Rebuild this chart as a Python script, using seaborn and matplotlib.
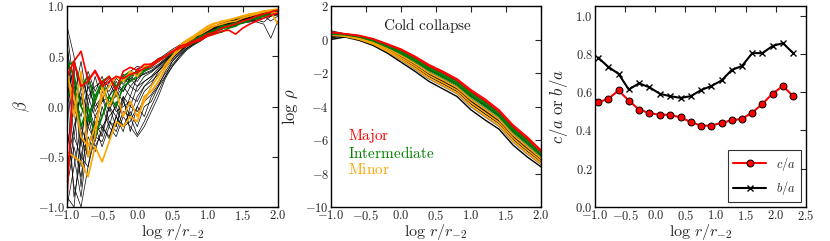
import matplotlib
matplotlib.use("Agg")
import matplotlib.pyplot as plt
from matplotlib.ticker import FuncFormatter, MultipleLocator
import seaborn as sns

# --- data ---
r_beta = [-1.0, -0.9, -0.8, -0.7, -0.6, -0.5, -0.4, -0.3, -0.2, -0.1, 0.0,
          0.1, 0.2, 0.3, 0.4, 0.5, 0.6, 0.7, 0.8, 0.9, 1.0,
          1.1, 1.2, 1.3, 1.4, 1.5, 1.6, 1.7, 1.8, 1.9, 2.0]

beta_black = [
    [0.75, 0.2, -0.3, 0.1, -0.1, 0.05, 0.1, 0.2, 0.15, 0.3, 0.35, 0.38, 0.42, 0.45, 0.5, 0.55, 0.6, 0.63, 0.68, 0.72, 0.75, 0.78, 0.8, 0.83, 0.85, 0.87, 0.88, 0.9, 0.92, 0.93, 0.95],
    [-1.0, -0.6, -0.2, -0.4, -0.15, -0.3, 0.0, -0.1, 0.1, 0.0, 0.2, 0.25, 0.3, 0.35, 0.42, 0.5, 0.55, 0.6, 0.65, 0.7, 0.74, 0.78, 0.8, 0.82, 0.84, 0.86, 0.88, 0.89, 0.9, 0.92, 0.94],
    [0.3, -0.5, -0.9, -0.3, -0.45, -0.2, -0.3, -0.1, -0.2, -0.05, -0.2, 0.0, 0.05, 0.2, 0.3, 0.45, 0.52, 0.58, 0.62, 0.68, 0.72, 0.75, 0.78, 0.8, 0.82, 0.84, 0.85, 0.86, 0.84, 0.9, 0.92],
    [0.5, 0.0, 0.3, 0.1, 0.2, 0.25, 0.2, 0.3, 0.25, 0.35, 0.4, 0.38, 0.42, 0.48, 0.5, 0.55, 0.6, 0.65, 0.7, 0.72, 0.78, 0.8, 0.82, 0.85, 0.86, 0.88, 0.9, 0.92, 0.93, 0.95, 0.96],
    [-0.2, -0.8, -1.0, -0.6, -0.3, -0.35, -0.15, -0.25, -0.05, -0.1, -0.28, -0.15, 0.0, 0.15, 0.3, 0.4, 0.5, 0.58, 0.62, 0.66, 0.7, 0.74, 0.78, 0.8, 0.83, 0.85, 0.86, 0.84, 0.82, 0.68, 0.85],
    [0.6, 0.1, -0.1, 0.2, 0.0, 0.1, -0.05, 0.15, 0.05, 0.2, 0.15, 0.25, 0.3, 0.38, 0.45, 0.52, 0.56, 0.6, 0.65, 0.69, 0.73, 0.77, 0.79, 0.82, 0.84, 0.86, 0.87, 0.89, 0.91, 0.93, 0.95],
    [-0.6, -0.2, 0.1, -0.2, 0.05, -0.1, 0.1, -0.05, 0.0, 0.05, -0.1, 0.1, 0.15, 0.25, 0.38, 0.47, 0.55, 0.6, 0.64, 0.68, 0.72, 0.76, 0.79, 0.81, 0.83, 0.85, 0.87, 0.88, 0.9, 0.91, 0.93],
    [0.1, 0.4, -0.6, 0.0, -0.2, 0.15, 0.05, 0.1, 0.2, 0.1, 0.3, 0.32, 0.35, 0.4, 0.46, 0.53, 0.58, 0.63, 0.67, 0.7, 0.76, 0.79, 0.82, 0.84, 0.86, 0.88, 0.89, 0.91, 0.93, 0.94, 0.96],
    [0.2, -0.9, -0.5, -0.1, -0.25, -0.2, -0.1, 0.0, -0.2, -0.15, 0.0, -0.1, 0.1, 0.2, 0.35, 0.45, 0.53, 0.6, 0.63, 0.67, 0.71, 0.75, 0.78, 0.8, 0.82, 0.86, 0.85, 0.88, 0.9, 0.85, 0.9],
    [0.4, -0.3, 0.2, -0.1, 0.1, 0.2, 0.15, 0.28, 0.22, 0.3, 0.25, 0.35, 0.38, 0.42, 0.48, 0.55, 0.6, 0.64, 0.69, 0.72, 0.76, 0.8, 0.82, 0.84, 0.86, 0.87, 0.89, 0.9, 0.92, 0.94, 0.95],
    [-0.8, -0.4, -0.7, -0.2, -0.35, 0.0, -0.2, 0.05, -0.1, 0.1, 0.05, 0.2, 0.25, 0.32, 0.4, 0.48, 0.54, 0.6, 0.66, 0.7, 0.73, 0.77, 0.8, 0.83, 0.84, 0.87, 0.88, 0.9, 0.91, 0.93, 0.94],
    [0.0, 0.3, -0.4, 0.25, -0.05, 0.1, -0.15, -0.2, 0.1, -0.25, 0.0, 0.15, 0.22, 0.35, 0.44, 0.52, 0.57, 0.62, 0.67, 0.71, 0.75, 0.78, 0.81, 0.83, 0.85, 0.87, 0.89, 0.9, 0.92, 0.94, 0.95],
    [0.8, 0.5, 0.0, 0.3, 0.1, 0.2, 0.28, 0.2, 0.32, 0.25, 0.38, 0.4, 0.43, 0.47, 0.52, 0.57, 0.61, 0.66, 0.7, 0.74, 0.77, 0.8, 0.83, 0.85, 0.87, 0.89, 0.91, 0.92, 0.94, 0.95, 0.97],
    [-0.9, -1.0, -0.3, -0.5, -0.1, -0.2, -0.32, -0.1, -0.25, 0.0, -0.05, 0.05, 0.12, 0.22, 0.33, 0.42, 0.5, 0.57, 0.62, 0.66, 0.7, 0.74, 0.77, 0.8, 0.81, 0.84, 0.86, 0.87, 0.88, 0.9, 0.92],
    [0.35, 0.1, 0.45, 0.0, 0.3, 0.05, 0.25, 0.1, 0.3, 0.2, 0.28, 0.33, 0.36, 0.41, 0.47, 0.54, 0.59, 0.63, 0.68, 0.71, 0.75, 0.79, 0.81, 0.84, 0.86, 0.87, 0.9, 0.91, 0.93, 0.95, 0.96],
    [-0.4, 0.0, -0.8, -0.1, -0.4, -0.25, 0.0, -0.2, 0.05, -0.1, 0.1, 0.2, 0.28, 0.36, 0.43, 0.5, 0.56, 0.61, 0.66, 0.7, 0.74, 0.78, 0.8, 0.82, 0.85, 0.86, 0.88, 0.9, 0.91, 0.93, 0.94],
    [0.65, -0.1, 0.1, 0.35, 0.15, 0.3, 0.1, 0.25, 0.15, 0.28, 0.2, 0.3, 0.34, 0.4, 0.46, 0.53, 0.58, 0.62, 0.66, 0.71, 0.74, 0.78, 0.8, 0.83, 0.85, 0.88, 0.88, 0.9, 0.92, 0.93, 0.95],
    [-0.7, -0.3, -0.5, -0.6, -0.2, -0.4, -0.2, -0.3, -0.1, -0.2, -0.3, -0.2, -0.05, 0.1, 0.28, 0.4, 0.48, 0.56, 0.61, 0.65, 0.7, 0.74, 0.77, 0.79, 0.81, 0.83, 0.84, 0.86, 0.88, 0.9, 0.91],
]
beta_major = [
    [-0.93, 0.45, 0.55, 0.26, 0.36, 0.23, 0.3, 0.16, 0.35, 0.39, 0.36, 0.42, 0.42, 0.47, 0.5, 0.55, 0.58, 0.6, 0.64, 0.66, 0.7, 0.72, 0.75, 0.76, 0.72, 0.78, 0.82, 0.85, 0.88, 0.91, 0.93],
    [0.3, 0.45, 0.2, 0.25, 0.35, 0.2, 0.25, 0.3, 0.28, 0.32, 0.34, 0.38, 0.4, 0.45, 0.5, 0.54, 0.6, 0.62, 0.65, 0.68, 0.72, 0.74, 0.78, 0.8, 0.82, 0.85, 0.87, 0.9, 0.92, 0.94, 0.96],
]
beta_inter = [
    [0.4, 0.45, 0.2, 0.3, 0.05, 0.25, 0.0, 0.2, 0.3, 0.35, 0.32, 0.38, 0.42, 0.45, 0.5, 0.55, 0.58, 0.6, 0.63, 0.67, 0.7, 0.73, 0.74, 0.78, 0.8, 0.84, 0.86, 0.88, 0.9, 0.92, 0.94],
    [0.1, 0.2, -0.2, 0.0, -0.3, -0.1, 0.1, 0.0, 0.2, 0.25, 0.3, 0.35, 0.4, 0.45, 0.5, 0.54, 0.57, 0.61, 0.65, 0.68, 0.72, 0.74, 0.77, 0.8, 0.82, 0.83, 0.86, 0.88, 0.9, 0.92, 0.95],
    [0.45, 0.3, 0.0, -0.15, 0.1, 0.25, 0.3, 0.2, 0.25, 0.3, 0.35, 0.36, 0.4, 0.46, 0.5, 0.53, 0.58, 0.62, 0.66, 0.7, 0.73, 0.76, 0.8, 0.81, 0.83, 0.85, 0.86, 0.89, 0.91, 0.92, 0.94],
]
beta_minor = [
    [-0.45, -0.5, -0.55, -0.7, -0.4, -0.55, -0.35, -0.15, -0.2, -0.1, -0.15, 0.1, 0.15, 0.25, 0.38, 0.5, 0.6, 0.66, 0.7, 0.75, 0.8, 0.83, 0.84, 0.86, 0.88, 0.9, 0.92, 0.93, 0.95, 0.96, 0.97],
    [0.4, -0.1, 0.35, -0.5, -0.3, 0.2, 0.0, 0.15, -0.1, 0.05, -0.1, 0.05, 0.2, 0.3, 0.42, 0.5, 0.56, 0.64, 0.68, 0.74, 0.78, 0.82, 0.85, 0.86, 0.88, 0.9, 0.92, 0.93, 0.95, 0.94, 0.93],
    [0.3, 0.1, -0.3, -0.4, -0.2, 0.1, 0.2, 0.3, 0.25, 0.35, 0.3, 0.4, 0.42, 0.45, 0.5, 0.55, 0.6, 0.64, 0.7, 0.72, 0.76, 0.8, 0.82, 0.84, 0.85, 0.88, 0.9, 0.92, 0.94, 0.95, 0.82],
]

r_rho = [-1.0, -0.8, -0.6, -0.4, -0.2, 0.0, 0.2, 0.4, 0.6, 0.8, 1.0, 1.2, 1.4, 1.6, 1.8, 2.0]

rho_black = [
    [0.5, 0.33, 0.22, 0.01, -0.3, -0.65, -1.09, -1.6, -2.0, -2.45, -3.12, -3.67, -4.32, -5.22, -5.92, -6.7],
    [0.25, 0.3, 0.16, -0.07, -0.41, -0.8, -1.27, -1.8, -2.22, -2.67, -3.36, -3.92, -4.55, -5.46, -6.16, -6.9],
    [0.2, 0.26, 0.12, -0.13, -0.5, -0.92, -1.4, -1.95, -2.37, -2.82, -3.54, -4.11, -4.72, -5.64, -6.34, -7.05],
    [0.3, 0.24, 0.09, -0.17, -0.55, -1.0, -1.5, -2.05, -2.48, -2.93, -3.66, -4.24, -4.83, -5.76, -6.46, -7.15],
    [0.1, 0.21, 0.04, -0.23, -0.64, -1.12, -1.63, -2.2, -2.64, -3.09, -3.84, -4.43, -5.0, -5.94, -6.64, -7.3],
    [0.05, 0.18, 0.0, -0.29, -0.72, -1.23, -1.77, -2.35, -2.79, -3.24, -4.02, -4.61, -5.18, -6.12, -6.82, -7.45],
    [0.0, 0.15, -0.05, -0.35, -0.8, -1.35, -1.9, -2.5, -2.95, -3.4, -4.2, -4.8, -5.35, -6.3, -7.0, -7.6],
    [0.15, 0.23, 0.07, -0.19, -0.58, -1.04, -1.54, -2.1, -2.53, -2.98, -3.72, -4.3, -4.89, -5.82, -6.52, -7.2],
    [0.45, 0.31, 0.19, -0.03, -0.36, -0.73, -1.18, -1.7, -2.11, -2.56, -3.24, -3.8, -4.43, -5.34, -6.04, -6.8],
]
rho_major = [
    [0.4, 0.35, 0.25, 0.05, -0.25, -0.57, -1.0, -1.5, -1.9, -2.35, -3.0, -3.55, -4.2, -5.1, -5.8, -6.6],
    [0.45, 0.33, 0.22, 0.02, -0.3, -0.63, -1.07, -1.58, -1.98, -2.43, -3.1, -3.65, -4.3, -5.2, -5.9, -6.7],
]
rho_inter = [
    [0.35, 0.32, 0.2, 0.0, -0.33, -0.69, -1.13, -1.65, -2.06, -2.5, -3.18, -3.74, -4.37, -5.28, -5.98, -6.75],
    [0.3, 0.3, 0.18, -0.05, -0.38, -0.77, -1.22, -1.75, -2.17, -2.62, -3.3, -3.86, -4.49, -5.4, -6.1, -6.85],
    [0.38, 0.28, 0.15, -0.09, -0.44, -0.84, -1.31, -1.85, -2.27, -2.72, -3.42, -3.99, -4.6, -5.52, -6.22, -6.95],
]
rho_minor = [
    [0.45, 0.25, 0.1, -0.15, -0.52, -0.96, -1.45, -2.0, -2.42, -2.87, -3.6, -4.17, -4.77, -5.7, -6.4, -7.1],
    [0.35, 0.22, 0.06, -0.21, -0.61, -1.08, -1.58, -2.15, -2.58, -3.03, -3.78, -4.36, -4.95, -5.88, -6.58, -7.25],
    [0.25, 0.19, 0.01, -0.27, -0.69, -1.19, -1.72, -2.3, -2.74, -3.19, -3.96, -4.55, -5.12, -6.06, -6.76, -7.4],
]

r_shape = [-0.95, -0.78, -0.61, -0.44, -0.27, -0.10, 0.08, 0.25, 0.42, 0.59,
           0.76, 0.93, 1.10, 1.27, 1.44, 1.61, 1.78, 1.95, 2.12, 2.29]
c_over_a = [0.547, 0.565, 0.609, 0.556, 0.509, 0.491, 0.482, 0.482, 0.468, 0.444,
            0.425, 0.425, 0.440, 0.453, 0.461, 0.493, 0.539, 0.593, 0.632, 0.579]
b_over_a = [0.781, 0.732, 0.696, 0.614, 0.646, 0.626, 0.591, 0.579, 0.570, 0.579,
            0.611, 0.632, 0.661, 0.716, 0.737, 0.804, 0.804, 0.842, 0.856, 0.804]

RED, GREEN, ORANGE = "#ff0000", "#008000", "#ffa500"

sns.set_style("white")
plt.rcParams["font.family"] = ["DejaVu Serif"]
plt.rcParams["mathtext.fontset"] = "cm"
plt.rcParams["xtick.direction"] = "in"
plt.rcParams["ytick.direction"] = "in"

fig = plt.figure(figsize=(8.3, 2.41), dpi=100)
ax1 = fig.add_axes([0.0807, 0.141, 0.254, 0.834])
ax2 = fig.add_axes([0.3988, 0.141, 0.253, 0.834])
ax3 = fig.add_axes([0.7169, 0.141, 0.254, 0.834])

# panel 1: anisotropy
for curve in beta_black:
    sns.lineplot(x=r_beta, y=curve, color="black", lw=0.5, ax=ax1)
for group, col in [(beta_inter, GREEN), (beta_minor, ORANGE), (beta_major, RED)]:
    for curve in group:
        sns.lineplot(x=r_beta, y=curve, color=col, lw=1.2, ax=ax1)
ax1.set_xlim(-1, 2)
ax1.set_ylim(-1, 1)
ax1.xaxis.set_major_locator(MultipleLocator(0.5))
ax1.yaxis.set_major_locator(MultipleLocator(0.5))
ax1.set_ylabel(r"$\beta$", fontsize=12)

# panel 2: density
for i, curve in enumerate(rho_black):
    sns.lineplot(x=r_rho, y=curve, color="0.45" if i % 3 == 2 else "black",
                 lw=1.0, ax=ax2)
for group, col in [(rho_minor, ORANGE), (rho_inter, GREEN), (rho_major, RED)]:
    for curve in group:
        sns.lineplot(x=r_rho, y=curve, color=col, lw=1.1, ax=ax2)
ax2.set_xlim(-1, 2)
ax2.set_ylim(-10, 2)
ax2.xaxis.set_major_locator(MultipleLocator(0.5))
ax2.yaxis.set_major_locator(MultipleLocator(2))
ax2.set_ylabel(r"$\log\,\rho$", fontsize=12)
ax2.text(0.46, 0.905, r"$\mathrm{Cold\ collapse}$", transform=ax2.transAxes,
         ha="center", va="center", fontsize=11)
for label, col, yy in [("Major", RED, 0.355), ("Intermediate", GREEN, 0.27), ("Minor", ORANGE, 0.185)]:
    ax2.text(0.08, yy, r"$\mathrm{%s}$" % label, color=col, transform=ax2.transAxes,
             ha="left", va="center", fontsize=11)

# panel 3: axis ratios
sns.lineplot(x=r_shape, y=c_over_a, color=RED, lw=1.5, marker="o", markersize=5,
             markeredgecolor="black", markeredgewidth=0.7, label=r"$c/a$", ax=ax3)
sns.lineplot(x=r_shape, y=b_over_a, color="black", lw=1.5, marker="x", markersize=5,
             markeredgecolor="black", markeredgewidth=1.0, label=r"$b/a$", ax=ax3)
ax3.set_xlim(-1, 2.5)
ax3.set_ylim(0, 1.05)
ax3.xaxis.set_major_locator(MultipleLocator(0.5))
ax3.yaxis.set_major_locator(MultipleLocator(0.2))
ax3.set_ylabel(r"$c/a\ \mathrm{or}\ b/a$", fontsize=12)
leg = ax3.legend(loc="lower right", fontsize=9, frameon=True, fancybox=False,
                 handlelength=2.6, borderaxespad=0.4)
leg.get_frame().set_edgecolor("black")
leg.get_frame().set_linewidth(0.8)

fmt = FuncFormatter(lambda v, p: r"$%.1f$" % v)
for ax in (ax1, ax2, ax3):
    ax.set_xlabel(r"$\log\,r/r_{-2}$", fontsize=11.5)
    ax.xaxis.set_label_coords(0.5, -0.075)
    ax.tick_params(top=True, right=True, length=4, width=0.8, labelsize=9, pad=1.5)
    ax.xaxis.set_major_formatter(fmt)
    if ax is ax2:
        ax.yaxis.set_major_formatter(FuncFormatter(lambda v, p: r"$%d$" % v))
    else:
        ax.yaxis.set_major_formatter(fmt)
    for s in ax.spines.values():
        s.set_color("black")
        s.set_linewidth(1.0)

fig.savefig("out.png", dpi=100)
